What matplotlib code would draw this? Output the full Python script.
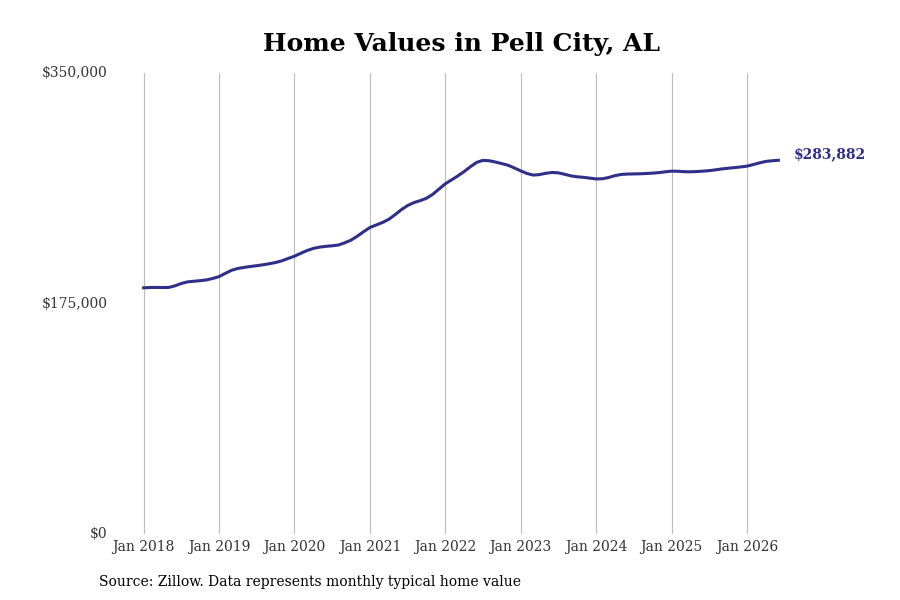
import numpy as np
import matplotlib
matplotlib.use('Agg')
import matplotlib.pyplot as plt

# monthly typical home value, Jan 2018 .. Jun 2026
start_year = 2018
values = [
    # 2018
    187000, 187200, 187300, 187200, 187300, 188500, 190300, 191500, 192000, 192400, 193000, 194100,
    # 2019
    195500, 198000, 200300, 201700, 202500, 203200, 203800, 204500, 205300, 206200, 207500, 209300,
    # 2020
    211000, 213200, 215300, 216900, 217900, 218500, 218900, 219500, 221200, 223200, 226200, 229600,
    # 2021
    232800, 234700, 236600, 239000, 242500, 246300, 249500, 251700, 253200, 255000, 258000, 262000,
    # 2022
    266000, 269000, 272000, 275300, 279000, 282300, 283800, 283500, 282500, 281300, 280100, 278000,
    # 2023
    275800, 273800, 272600, 273000, 274000, 274600, 274300, 273200, 272000, 271300, 270900, 270300,
    # 2024
    269700, 269800, 270800, 272200, 273100, 273400, 273500, 273600, 273800, 274100, 274500, 275100,
    # 2025
    275600, 275500, 275200, 275100, 275300, 275600, 276000, 276600, 277300, 277800, 278300, 278800,
    # 2026
    279400, 280600, 281900, 283000, 283500, 283882,
]
tick_years = list(range(2018, 2027))
tick_labels = [f"Jan {y}" for y in tick_years]
y_ticks = [0, 175000, 350000]
y_labels = ["$0", "$175,000", "$350,000"]
last_label = "$283,882"

line_color = "#2f2f8a"
plt.rcParams['font.family'] = ['DejaVu Serif']

t = start_year + np.arange(len(values)) / 12.0

fig = plt.figure(figsize=(9, 6), dpi=100)
ax = fig.add_axes([0.128, 0.11, 0.75, 0.768])
ax.plot(t, values, color=line_color, linewidth=2.2)
ax.set_xlim(2017.623, 2026.573)
ax.set_ylim(0, 350000)

ax.set_xticks(tick_years)
ax.set_xticklabels(tick_labels, fontsize=10, color="#333333")
ax.set_yticks(y_ticks)
ax.set_yticklabels(y_labels, fontsize=10, color="#333333")
ax.tick_params(axis='both', length=0)
ax.tick_params(axis='x', pad=4)
ax.tick_params(axis='y', pad=5.5)
for lab in ax.get_yticklabels():
    lab.set_verticalalignment('center')

ax.grid(axis='x', color="#bbbbbb", linewidth=0.8)
ax.set_axisbelow(True)
for s in ax.spines.values():
    s.set_visible(False)

ax.annotate(last_label, xy=(t[-1], values[-1]), xytext=(11, 4),
            textcoords='offset points', color=line_color, fontsize=10,
            fontweight='bold', va='center', ha='left', annotation_clip=False)

fig.text(0.513, 0.927, "Home Values in Pell City, AL", ha='center', va='center',
         fontsize=18, fontweight='bold', color='black')
fig.text(0.11, 0.03, "Source: Zillow. Data represents monthly typical home value",
         ha='left', va='center', fontsize=10, color='black')

fig.savefig("out.png", dpi=100)
